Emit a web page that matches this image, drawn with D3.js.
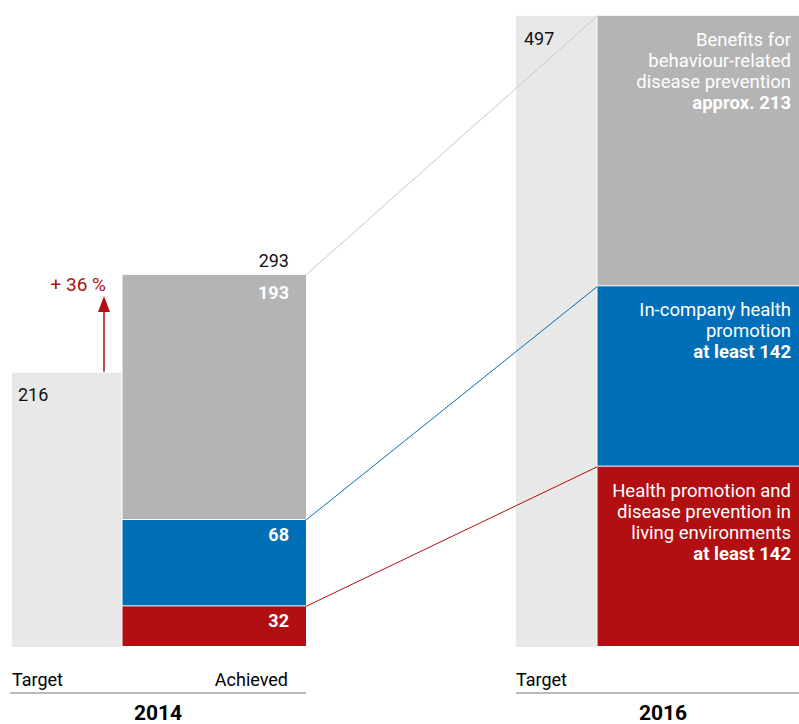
<!DOCTYPE html>
<html>
<head>
<meta charset="utf-8">
<script src="https://cdn.jsdelivr.net/npm/d3@7"></script>
<style>
  body { margin: 0; background: #fff; }
  svg text { font-family: Roboto, "Liberation Sans", sans-serif; }
</style>
</head>
<body>
<div id="chart"></div>
<script>
// values
var years = ["2014", "2016"];
var targets = [216, 497];
var achievedParts = ["prevention", "company", "living"];
var achieved2014 = [193, 68, 32];
var target2016 = [213, 142, 142];
var achievedTotal = 293;
var growthLabel = "+ 36 %";
var partLabels2016 = [
  ["Benefits for", "behaviour-related", "disease prevention", "approx. 213"],
  ["In-company health", "promotion", "at least 142"],
  ["Health promotion and", "disease prevention in", "living environments", "at least 142"]
];
var colors = ["#b4b4b4", "#006fb8", "#b10f11"];

var width = 799, height = 724;

var svg = d3.select("#chart").append("svg")
    .attr("width", width)
    .attr("height", height);

// vertical scale, shared by all columns
var y = d3.scaleLinear().domain([0, 500]).range([647, 12]);

// column edges
var xCol = d3.scaleOrdinal()
    .domain(["t2014", "a2014", "a2014end", "t2016", "s2016", "end"])
    .range([12, 122.5, 306, 516, 597.5, 799]);

// stack helper (bottom to top order: red, blue, grey)
function stackParts(vals) {
  var out = [], acc = 0;
  for (var i = vals.length - 1; i >= 0; i--) {
    out[i] = { v: vals[i], y0: acc, y1: acc + vals[i], c: colors[i], i: i };
    acc += vals[i];
  }
  return out;
}

// target bars (light grey)
svg.append("rect")
    .attr("x", xCol("t2014")).attr("width", xCol("a2014") - xCol("t2014") - 1)
    .attr("y", y(targets[0])).attr("height", y(0) - y(targets[0]))
    .attr("fill", "#e8e8e8");
svg.append("rect")
    .attr("x", xCol("t2016")).attr("width", xCol("s2016") - xCol("t2016") - 1)
    .attr("y", y(targets[1])).attr("height", y(0) - y(targets[1]))
    .attr("fill", "#e8e8e8");

// 2014 achieved stack
var s14 = stackParts(achieved2014);
svg.append("g").selectAll("rect").data(s14).enter().append("rect")
    .attr("x", xCol("a2014")).attr("width", xCol("a2014end") - xCol("a2014"))
    .attr("y", function(d) { return y(d.y1); })
    .attr("height", function(d) { return y(d.y0) - y(d.y1) - 1; })
    .attr("fill", function(d) { return d.c; });

svg.append("g").selectAll("text").data(s14).enter().append("text")
    .attr("x", 289).attr("y", function(d) { return y(d.y1) + (d.i === 0 ? 24 : 21); })
    .attr("text-anchor", "end")
    .attr("font-size", 18).attr("font-weight", "bold")
    .attr("fill", "#fff")
    .text(function(d) { return d.v; });

// 2016 target stack
var s16 = stackParts(target2016);
svg.append("g").selectAll("rect").data(s16).enter().append("rect")
    .attr("x", xCol("s2016")).attr("width", xCol("end") - xCol("s2016"))
    .attr("y", function(d) { return y(d.y1); })
    .attr("height", function(d) { return y(d.y0) - y(d.y1) - 1; })
    .attr("fill", function(d) { return d.c; });

var labels = svg.append("g").selectAll("text").data(s16).enter().append("text")
    .attr("text-anchor", "end")
    .attr("font-size", 18.5)
    .attr("fill", "#fff");
labels.each(function(d) {
  var t = d3.select(this), lines = partLabels2016[d.i];
  lines.forEach(function(l, j) {
    t.append("tspan")
        .attr("x", 791)
        .attr("y", y(d.y1) + 30 + j * 21)
        .attr("font-weight", j === lines.length - 1 ? "bold" : null)
        .text(l);
  });
});

// connector lines from 2014 achieved to 2016 target
s14.forEach(function(d, i) {
  svg.append("line")
      .attr("x1", xCol("a2014end")).attr("y1", y(d.y1))
      .attr("x2", xCol("s2016")).attr("y2", y(s16[i].y1))
      .attr("stroke", i === 0 ? "#c8c8c8" : d.c)
      .attr("stroke-width", 1);
});

// totals
svg.append("text").attr("x", 18).attr("y", y(targets[0]) + 28)
    .attr("font-size", 18).attr("fill", "#111").text(targets[0]);
svg.append("text").attr("x", 289).attr("y", y(achievedTotal) - 8)
    .attr("text-anchor", "end")
    .attr("font-size", 18).attr("fill", "#111").text(achievedTotal);
svg.append("text").attr("x", 524).attr("y", y(targets[1]) + 29)
    .attr("font-size", 18).attr("fill", "#111").text(targets[1]);

// growth arrow
var ax = 104;
svg.append("line")
    .attr("x1", ax).attr("x2", ax)
    .attr("y1", y(targets[0]) - 1).attr("y2", y(achievedTotal) + 30)
    .attr("stroke", "#b10f11").attr("stroke-width", 1.5);
svg.append("path")
    .attr("d", "M" + (ax - 6) + "," + (y(achievedTotal) + 37) +
               "L" + ax + "," + (y(achievedTotal) + 21) +
               "L" + (ax + 6) + "," + (y(achievedTotal) + 37) + "Z")
    .attr("fill", "#b10f11");
svg.append("text").attr("x", 106).attr("y", y(achievedTotal) + 16)
    .attr("text-anchor", "end")
    .attr("font-size", 19).attr("fill", "#b10f11").text(growthLabel);

// category labels and year axes
var axisY = 693;
svg.append("text").attr("x", 12).attr("y", 686).attr("font-size", 18).text("Target");
svg.append("text").attr("x", 288).attr("y", 686).attr("text-anchor", "end").attr("font-size", 18).text("Achieved");
svg.append("text").attr("x", 516).attr("y", 686).attr("font-size", 18).text("Target");

svg.append("line").attr("x1", 10).attr("x2", xCol("a2014end")).attr("y1", axisY).attr("y2", axisY)
    .attr("stroke", "#777").attr("stroke-width", 1);
svg.append("line").attr("x1", xCol("t2016")).attr("x2", xCol("end")).attr("y1", axisY).attr("y2", axisY)
    .attr("stroke", "#777").attr("stroke-width", 1);

svg.append("text").attr("x", 158).attr("y", 720).attr("text-anchor", "middle")
    .attr("font-size", 21).attr("font-weight", "bold").text(years[0]);
svg.append("text").attr("x", 663).attr("y", 720).attr("text-anchor", "middle")
    .attr("font-size", 21).attr("font-weight", "bold").text(years[1]);
</script>
</body>
</html>
